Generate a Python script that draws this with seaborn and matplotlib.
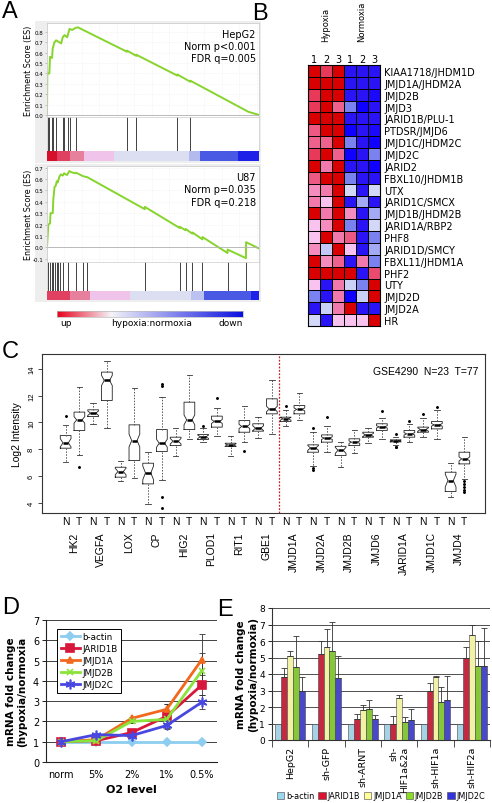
import numpy as np
import pandas as pd
import matplotlib
matplotlib.use('Agg')
import matplotlib.pyplot as plt
import seaborn as sns
from matplotlib.colors import LinearSegmentedColormap
from matplotlib.patches import Rectangle, Patch

plt.rcParams['font.family'] = ['DejaVu Sans']

# ---------------- data ----------------
# A: GSEA running enrichment score (rank, ES vertices), hit ranks, ranked-list colour bar
n_genes = 20000
hep_rank = [0, 30, 220, 285, 475, 535, 700, 860, 1335, 1485, 1650, 1905, 2125, 2380, 2695, 2915,
            7540, 7550, 8430, 8440, 12290, 12300, 13520, 13530, 19000, 20000]
hep_es = [0.0, 0.40, 0.40, 0.56, 0.55, 0.64, 0.70, 0.72, 0.69, 0.75, 0.77, 0.75, 0.83, 0.82, 0.84, 0.845,
          0.61, 0.62, 0.57, 0.58, 0.38, 0.39, 0.32, 0.33, 0.03, 0.0]
hep_hits = [66, 218, 446, 597, 825, 1488, 1640, 2020, 2180, 2749, 7554, 8436, 12295, 13527]
hep_bar_edges = [0, 950, 2200, 3450, 6300, 13400, 14400, 18000, 20000]
hep_bar_levels = [3.0, 2.4, 1.8, 0.6, -0.4, -0.9, -2.0, -2.8]

u87_rank = [0, 123, 284, 332, 540, 597, 711, 825, 920, 1014, 1166, 1299, 1488, 1612, 1773, 1896,
            2114, 2275, 2654, 2749, 3384, 3820, 9220, 9230, 12510, 12520, 13080, 13090, 13710, 13720,
            14660, 14670, 17030, 17040, 18770, 18780, 20000]
u87_es = [0.0, 0.20, 0.21, 0.30, 0.30, 0.42, 0.53, 0.54, 0.58, 0.57, 0.62, 0.64, 0.63, 0.65, 0.64, 0.635,
          0.67, 0.66, 0.65, 0.655, 0.625, 0.615, 0.335, 0.355, 0.17, 0.18, 0.15, 0.16, 0.12, 0.13,
          0.07, 0.09, -0.05, -0.02, -0.095, 0.045, -0.01]
u87_hits = [123, 284, 446, 597, 758, 920, 1071, 1232, 1545, 2020, 2749, 3384, 3820, 9224,
            12514, 13083, 13717, 14665, 17035, 18770]
u87_bar_edges = [0, 2180, 4076, 7868, 13556, 14789, 19244, 20000]
u87_bar_levels = [2.4, 1.8, 0.6, -0.4, -0.8, -2.0, -2.8]

# B: heatmap of demethylases (hypoxia 1-3, normoxia 1-3)
hm_genes = ['KIAA1718/JHDM1D', 'JMJD1A/JHDM2A', 'JMJD2B', 'JMJD3', 'JARID1B/PLU-1', 'PTDSR/JMJD6',
            'JMJD1C/JHDM2C', 'JMJD2C', 'JARID2', 'FBXL10/JHDM1B', 'UTX', 'JARID1C/SMCX',
            'JMJD1B/JHDM2B', 'JARID1A/RBP2', 'PHF8', 'JARID1D/SMCY', 'FBXL11/JHDM1A', 'PHF2',
            'UTY', 'JMJD2D', 'JMJD2A', 'HR']
hm_cols = ['1', '2', '3', '1', '2', '3']
hm_values = [
    [3.0, 2.0, 3.0, -2.6, -2.6, -2.6],
    [3.0, 3.0, 3.0, -2.6, -2.6, -2.6],
    [2.0, 3.0, 3.0, -2.6, -2.6, -2.8],
    [2.0, 3.0, 1.5, -1.5, -3.0, -2.6],
    [3.0, 3.0, 3.0, -2.6, -2.6, -2.6],
    [1.6, 3.0, 3.0, -3.0, -2.6, -2.8],
    [1.5, 1.5, 3.0, -1.5, -2.6, -3.0],
    [2.0, 3.0, 1.5, -3.0, -2.6, -1.5],
    [3.0, 1.2, 3.0, -2.6, -2.6, -3.0],
    [1.6, 3.0, 3.0, -1.5, -2.6, -2.6],
    [1.0, 1.2, 3.0, -0.4, -2.6, -0.4],
    [1.2, 0.4, 3.0, -2.6, -1.0, -2.6],
    [3.0, 1.2, 3.0, 1.0, -2.6, -1.0],
    [0.4, 1.0, 3.0, -1.5, -2.6, -0.4],
    [0.4, 3.0, 1.2, 1.6, -2.6, -1.5],
    [1.0, -0.6, 3.0, 0.4, -2.6, -1.0],
    [3.0, 1.0, 1.5, -2.6, 1.2, -1.5],
    [3.0, 3.0, 3.0, 3.0, -2.6, 1.8],
    [0.4, -2.6, 1.2, -0.5, -1.5, 3.0],
    [-1.5, -2.6, 1.2, -3.0, -0.5, 3.0],
    [-2.6, -0.5, 1.2, 3.0, -2.6, -2.6],
    [-0.4, -2.6, 0.4, 0.4, 0.4, 3.0],
]

# C: box statistics GSE4290, N (normal, n=23) / T (tumour, n=77) for each gene
c_genes = ['HK2', 'VEGFA', 'LOX', 'CP', 'HIG2', 'PLOD1', 'RIT1', 'GBE1',
           'JMJD1A', 'JMJD2A', 'JMJD2B', 'JMJD6', 'JARID1A', 'JMJD1C', 'JMJD4']
c_groups = ['N', 'T']
c_n = {'N': 23, 'T': 77}
c_q1 = [8.08, 9.40, 10.44, 11.64, 5.92, 7.16, 5.42, 7.83, 8.28, 9.47, 8.73, 9.65, 8.20, 9.27, 9.35, 10.64,
        10.07, 10.64, 7.78, 8.53, 7.53, 8.28, 8.90, 9.40, 8.55, 8.90, 9.27, 9.52, 4.85, 6.91]
c_med = [8.48, 10.19, 10.69, 13.13, 6.34, 8.65, 6.24, 8.45, 8.60, 10.19, 8.93, 10.07, 8.32, 9.70, 9.57, 11.00,
         10.27, 10.97, 8.10, 8.83, 7.92, 8.53, 9.07, 9.67, 8.63, 9.15, 9.47, 9.82, 5.67, 7.28]
c_q3 = [9.02, 10.77, 10.94, 13.75, 6.66, 9.82, 6.96, 9.47, 8.90, 11.51, 9.10, 10.47, 8.45, 10.14, 9.90, 11.76,
        10.39, 11.26, 8.33, 9.07, 8.22, 8.78, 9.27, 9.90, 8.70, 9.40, 9.65, 10.07, 6.29, 7.78]
c_lo = [7.08, 7.60, 9.85, 9.57, 5.62, 5.85, 3.90, 5.74, 7.53, 8.78, 8.55, 9.02, 7.53, 8.53, 8.83, 9.15,
        9.77, 10.20, 6.79, 7.78, 6.70, 7.73, 8.48, 8.78, 8.30, 8.53, 8.90, 8.78, 4.45, 5.79]
c_hi = [9.82, 12.63, 11.44, 14.60, 7.11, 12.56, 7.83, 11.89, 9.60, 13.55, 9.55, 11.09, 9.02, 11.26, 10.40, 13.13,
        10.90, 12.18, 9.30, 9.77, 8.57, 9.45, 9.60, 10.30, 8.95, 9.90, 10.30, 10.90, 6.96, 8.90]
c_fliers = [[10.5], [6.69], [], [], [], [], [], [12.7, 12.85, 4.45, 3.65], [], [], [9.77], [11.8], [], [7.9], [], [],
            [11.2], [], [9.57, 6.6, 6.45], [10.4], [], [], [], [10.85], [9.12, 8.2, 8.15], [10.1], [10.6], [11.15],
            [], [5.6, 5.4, 5.2, 5.0, 4.85]]

# D: time course of O2 level
o2_levels = ['norm', '5%', '2%', '1%', '0.5%']
d_genes = ['b-actin', 'JARID1B', 'JMJD1A', 'JMJD2B', 'JMJD2C']
d_actin = [1.0, 1.0, 1.0, 1.0, 1.0]
d_jarid1b = [1.0, 1.05, 1.45, 2.25, 3.8]
d_jmjd1a = [1.0, 1.1, 2.15, 2.6, 5.05]
d_jmjd2b = [1.0, 1.05, 2.0, 2.1, 4.5]
d_jmjd2c = [1.0, 1.35, 1.3, 1.8, 2.95]
d_actin_err = [0, 0, 0, 0, 0]
d_jarid1b_err = [0, 0.05, 0.1, 0.6, 0.5]
d_jmjd1a_err = [0, 0.05, 0.08, 0.25, 1.25]
d_jmjd2b_err = [0, 0.05, 0.1, 0.1, 0.85]
d_jmjd2c_err = [0, 0.05, 0.1, 0.1, 0.35]

# E: knockdowns
e_groups = ['HepG2', 'sh-GFP', 'sh-ARNT', 'sh-\nHIF1a&2a', 'sh-HIF1a', 'sh-HIF2a']
e_genes = ['b-actin', 'JARID1B', 'JMJD1A', 'JMJD2B', 'JMJD2C']
e_actin = [1.0, 1.0, 1.0, 1.0, 1.0, 1.0]
e_jarid1b = [3.8, 5.2, 1.3, 0.95, 3.0, 5.0]
e_jmjd1a = [5.1, 5.65, 1.8, 2.55, 3.8, 6.35]
e_jmjd2b = [4.45, 5.4, 1.85, 1.1, 2.3, 4.5]
e_jmjd2c = [2.95, 3.75, 1.3, 1.2, 2.45, 4.5]
e_actin_err = [0, 0, 0, 0, 0, 0]
e_jarid1b_err = [0.55, 0.8, 0.3, 0.5, 0.45, 0.65]
e_jmjd1a_err = [0.3, 1.05, 0.3, 0.15, 0.1, 0.6]
e_jmjd2b_err = [1.85, 1.75, 0.55, 0.3, 0.9, 1.5]
e_jmjd2c_err = [0.85, 1.35, 0.2, 0.65, 1.4, 2.3]

# ---------------- layout helpers ----------------
W, H = 492, 804


def rect(l, t, r, b):
    return [l / W, 1 - b / H, (r - l) / W, (b - t) / H]


fig = plt.figure(figsize=(W / 100, H / 100), dpi=100)

for letter, x, y in [('A', 2, 1), ('B', 252, 3), ('C', 2, 341), ('D', 2, 597), ('E', 217, 599)]:
    fig.text(x / W, 1 - y / H, letter, fontsize=17, va='top', ha='left', family='Liberation Sans')

# ---------------- A ----------------
gsea_cmap = LinearSegmentedColormap.from_list('gsea', [
    (0.0, '#1414e8'), (1 / 6, '#4a5ae4'), (0.35, '#b4bcee'), (0.43, '#dcdef2'),
    (0.6, '#f0c4ea'), (0.8, '#e6809c'), (0.9, '#e04262'), (1.0, '#d6102c')])

for top, bot in [(22, 164), (165, 303)]:
    fig.patches.append(Rectangle((35 / W, 1 - bot / H), (261 - 35) / W, (bot - top) / H,
                                 transform=fig.transFigure, facecolor='#eeeeee', edgecolor='none', zorder=-5))


def gsea(es_box, hit_box, bar_box, ranks, es, hits, edges, levels, ylim, ytop, title):
    ax = fig.add_axes(rect(*es_box))
    sns.lineplot(x=ranks, y=es, ax=ax, color='#86d42c', lw=1.4, sort=False, estimator=None)
    ax.axhline(0, color='#b0b0b0', lw=0.6)
    ax.set_xlim(0, n_genes)
    ax.set_ylim(*ylim)
    ticks = np.round(np.arange(-0.1 if ylim[0] < -0.05 else 0, ytop + 0.01, 0.1), 1)
    ax.set_yticks(ticks)
    ax.set_yticklabels([f'{t:.1f}' for t in ticks], fontsize=4)
    ax.set_xticks(np.arange(0, n_genes, 1650))
    ax.set_xticklabels([])
    ax.tick_params(axis='both', length=1.5, width=0.4, pad=1, color='#999999')
    ax.grid(True, color='#e8e8e8', lw=0.4, ls=':')
    for s in ax.spines.values():
        s.set_color('#cccccc')
        s.set_linewidth(0.6)
    ax.text(0.985, 0.94, title, transform=ax.transAxes, ha='right', va='top', fontsize=7,
            linespacing=1.3)
    ax.set_ylabel('')
    axh = fig.add_axes(rect(*hit_box))
    axh.vlines(hits, 0, 1, color='#222222', lw=0.6)
    axh.set_xlim(0, n_genes)
    axh.set_ylim(0, 1)
    axh.set_xticks([])
    axh.set_yticks([])
    for s in axh.spines.values():
        s.set_color('#cccccc')
        s.set_linewidth(0.5)
    axb = fig.add_axes(rect(*bar_box))
    axb.pcolormesh(edges, [0, 1], [levels], cmap=gsea_cmap, vmin=-3, vmax=3)
    axb.set_xlim(0, n_genes)
    axb.set_xticks([])
    axb.set_yticks([])
    for s in axb.spines.values():
        s.set_visible(False)
    fig.text(29 / W, 1 - ((es_box[1] + es_box[3]) / 2) / H, 'Enrichment Score (ES)', rotation=90,
             ha='center', va='center', fontsize=5.8)


gsea((47, 24, 259, 118), (47, 118, 259, 152), (47, 152, 259, 162), hep_rank, hep_es, hep_hits,
     hep_bar_edges, hep_bar_levels, (-0.02, 0.887), 0.8, 'HepG2\nNorm p<0.001\nFDR q=0.005')
gsea((47, 167, 259, 263), (47, 263, 259, 292), (47, 292, 259, 301), u87_rank, u87_es, u87_hits,
     u87_bar_edges, u87_bar_levels, (-0.129, 0.714), 0.7, 'U87\nNorm p=0.035\nFDR q=0.218')

key_cmap = LinearSegmentedColormap.from_list('key', [(0, '#e8001c'), (0.29, '#f4f4f8'), (1, '#0a10e0')])
axk = fig.add_axes(rect(57, 312, 243, 318))
axk.imshow(np.linspace(0, 1, 256)[None, :], aspect='auto', cmap=key_cmap, extent=[0, 1, 0, 1])
axk.set_xticks([])
axk.set_yticks([])
for s in axk.spines.values():
    s.set_color('#bbbbbb')
    s.set_linewidth(0.5)
fig.text(60 / W, 1 - 324 / H, 'up', fontsize=6.5, ha='left', va='center')
fig.text(152 / W, 1 - 324 / H, 'hypoxia:normoxia', fontsize=6.5, ha='center', va='center')
fig.text(243 / W, 1 - 324 / H, 'down', fontsize=6.5, ha='right', va='center')

# ---------------- B ----------------
hm_cmap = LinearSegmentedColormap.from_list('hm', [
    (0.0, '#1000ff'), (0.0667, '#2a14f5'), (0.25, '#7a82f0'), (0.433, '#d4d8f8'), (0.5, '#ece0f8'),
    (0.567, '#f8c4f0'), (0.7, '#f27aac'), (0.833, '#e83a5c'), (1.0, '#d80000')])
axhm = fig.add_axes(rect(308, 66, 380, 327))
sns.heatmap(pd.DataFrame(hm_values, index=hm_genes), ax=axhm, cmap=hm_cmap, vmin=-3, vmax=3, cbar=False,
            linewidths=0.6, linecolor='black', xticklabels=hm_cols, yticklabels=hm_genes)
axhm.yaxis.tick_right()
axhm.xaxis.tick_top()
axhm.tick_params(axis='y', length=0, labelsize=7, pad=3, rotation=0)
axhm.tick_params(axis='x', length=0, labelsize=7, pad=1, rotation=0)
for s in axhm.spines.values():
    s.set_visible(True)
    s.set_color('black')
    s.set_linewidth(0.8)
fig.text(326 / W, 1 - 42 / H, 'Hypoxia', rotation=90, ha='center', va='bottom', fontsize=6)
fig.text(362 / W, 1 - 42 / H, 'Normoxia', rotation=90, ha='center', va='bottom', fontsize=6)

# ---------------- C ----------------
axc = fig.add_axes(rect(42, 355, 485, 514))
stats = []
for i in range(len(c_med)):
    n = c_n[c_groups[i % 2]]
    notch = 1.58 * (c_q3[i] - c_q1[i]) / np.sqrt(n)
    stats.append(dict(med=c_med[i], q1=c_q1[i], q3=c_q3[i], whislo=c_lo[i], whishi=c_hi[i],
                      fliers=c_fliers[i], cilo=c_med[i] - notch, cihi=c_med[i] + notch))
axc.bxp(stats, positions=range(len(stats)), widths=0.78, shownotches=True, showfliers=True,
        boxprops=dict(color='#222222', lw=0.6),
        whiskerprops=dict(color='#555555', lw=0.7, ls=(0, (1.5, 1.5))),
        capprops=dict(color='#333333', lw=0.6), capwidths=0.4,
        medianprops=dict(color='black', lw=1.8),
        flierprops=dict(marker='.', ms=2.2, mfc='black', mec='black'))
axc.axvline(15.5, color='#cc2222', lw=0.9, ls=(0, (1.5, 1.2)))
axc.set_xlim(-1.72, 30.5)
axc.set_ylim(3.25, 15.1)
axc.set_xticks(range(len(stats)))
axc.set_xticklabels(c_groups * len(c_genes), fontsize=7.5, family='Liberation Sans')
axc.set_yticks([4, 6, 8, 10, 12, 14])
axc.set_yticklabels(['4', '6', '8', '10', '12', '14'], fontsize=5.5, rotation=90, va='center',
                    family='Liberation Sans')
axc.tick_params(axis='x', length=0, pad=2)
axc.tick_params(axis='y', length=3, width=0.5, pad=2)
for s in axc.spines.values():
    s.set_color('#333333')
    s.set_linewidth(0.8)
for j, g in enumerate(c_genes):
    axc.text(2 * j + 0.6, -0.115, g, transform=axc.get_xaxis_transform(), rotation=90, ha='center',
             va='top', fontsize=7.5, family='Liberation Sans')
axc.set_ylabel('Log2 Intensity', fontsize=7.5, family='Liberation Sans', labelpad=4)
axc.text(0.985, 0.89, 'GSE4290  N=23  T=77', transform=axc.transAxes, ha='right', va='center',
         fontsize=7.5, family='Liberation Sans')

# ---------------- D ----------------
axd = fig.add_axes(rect(46, 621, 217, 763))
d_series = [d_actin, d_jarid1b, d_jmjd1a, d_jmjd2b, d_jmjd2c]
d_errs = [d_actin_err, d_jarid1b_err, d_jmjd1a_err, d_jmjd2b_err, d_jmjd2c_err]
d_colors = ['#8ccdf0', '#d8173c', '#f2691e', '#8ae33a', '#4848e0']
d_markers = ['D', 's', '^', 'x', (6, 2, 0)]
d_ms = [4, 6, 5, 5, 7]
xpos = np.arange(len(o2_levels))
for gene, vals, errs, col, mk, ms in zip(d_genes, d_series, d_errs, d_colors, d_markers, d_ms):
    errs = np.array(errs)
    m = errs > 0
    axd.errorbar(xpos[m], np.array(vals)[m], yerr=errs[m], fmt='none', ecolor='#333333', elinewidth=0.6,
                 capsize=2, capthick=0.6, zorder=2)
    sns.lineplot(x=xpos, y=vals, ax=axd, color=col, lw=2, marker=mk, ms=ms, mec=col, mfc=col,
                 mew=1.2, label=gene, zorder=3)
axd.set_xlim(-0.43, 4.43)
axd.set_ylim(0, 7)
axd.set_xticks(xpos)
axd.set_xticklabels(o2_levels, fontsize=7)
axd.set_yticks(range(8))
axd.set_yticklabels([str(i) for i in range(8)], fontsize=7)
axd.yaxis.grid(True, color='#222222', lw=0.6)
axd.set_axisbelow(True)
axd.tick_params(axis='x', length=0, pad=5)
axd.tick_params(axis='y', length=3, width=0.6, pad=2)
for s in ['top', 'right']:
    axd.spines[s].set_visible(False)
axd.spines['left'].set_color('#222222')
axd.spines['bottom'].set_color('#222222')
axd.set_xlabel('O2 level', fontsize=8, fontweight='bold', labelpad=4)
axd.set_ylabel('mRNA fold change\n(hypoxia/normoxia', fontsize=7.5, fontweight='bold', labelpad=4)
leg = axd.legend(loc='upper left', bbox_to_anchor=(0.04, 0.97), fontsize=6.3, frameon=True, fancybox=False,
                 handlelength=2.2, labelspacing=0.35, borderpad=0.4, handletextpad=0.3)
leg.get_frame().set_edgecolor('black')
leg.get_frame().set_linewidth(0.7)
leg.get_frame().set_alpha(1)

# ---------------- E ----------------
axe = fig.add_axes(rect(272, 609, 490, 741))
e_series = [e_actin, e_jarid1b, e_jmjd1a, e_jmjd2b, e_jmjd2c]
e_errs = [e_actin_err, e_jarid1b_err, e_jmjd1a_err, e_jmjd2b_err, e_jmjd2c_err]
e_colors = ['#9ad8f0', '#dd1030', '#ffff99', '#88dd22', '#3333dd']
df_e = pd.DataFrame([(g, gene, v) for gene, vals in zip(e_genes, e_series) for g, v in zip(e_groups, vals)],
                    columns=['group', 'gene', 'fold'])
sns.barplot(data=df_e, x='group', y='fold', hue='gene', order=e_groups, hue_order=e_genes,
            palette=e_colors, errorbar=None, width=0.82, edgecolor='#444444', linewidth=0.4,
            legend=False, ax=axe, zorder=2)
for cont, errs in zip(axe.containers, e_errs):
    errs = np.array(errs)
    xs = np.array([p.get_x() + p.get_width() / 2 for p in cont])
    hs = np.array([p.get_height() for p in cont])
    m = errs > 0
    axe.errorbar(xs[m], hs[m], yerr=[np.zeros(m.sum()), errs[m]], fmt='none', ecolor='#333333',
                 elinewidth=0.6, capsize=2, capthick=0.6, zorder=3)
axe.set_ylim(0, 8)
axe.set_xlim(-0.5, 5.5)
axe.set_yticks(range(9))
axe.set_yticklabels([str(i) for i in range(9)], fontsize=6.5)
axe.yaxis.grid(True, color='#333333', lw=0.6)
axe.set_axisbelow(True)
axe.set_xticks(range(len(e_groups)))
axe.set_xticklabels(e_groups, rotation=90, fontsize=6.8, va='top', ha='center', multialignment='right')
axe.set_xticks(np.arange(-0.5, 6, 1), minor=True)
axe.tick_params(axis='x', which='major', length=0, pad=4)
axe.tick_params(axis='x', which='minor', length=5, width=0.6, color='#333333')
axe.tick_params(axis='y', length=3, width=0.6, pad=2)
for s in ['top', 'right']:
    axe.spines[s].set_visible(False)
axe.spines['left'].set_color('#333333')
axe.spines['bottom'].set_color('#333333')
axe.set_xlabel('')
axe.set_ylabel('mRNA fold change\n(hypoxia/normoxia)', fontsize=7.5, fontweight='bold', labelpad=1)
handles = [Patch(facecolor=c, edgecolor='#444444', lw=0.4) for c in e_colors]
fig.legend(handles, e_genes, loc='center', bbox_to_anchor=(381 / W, 1 - 797 / H), ncol=5, frameon=False,
           fontsize=5.9, handlelength=0.9, handleheight=0.9, columnspacing=0.45, handletextpad=0.25,
           borderpad=0.1, borderaxespad=0)

fig.savefig('out.png', dpi=100)
